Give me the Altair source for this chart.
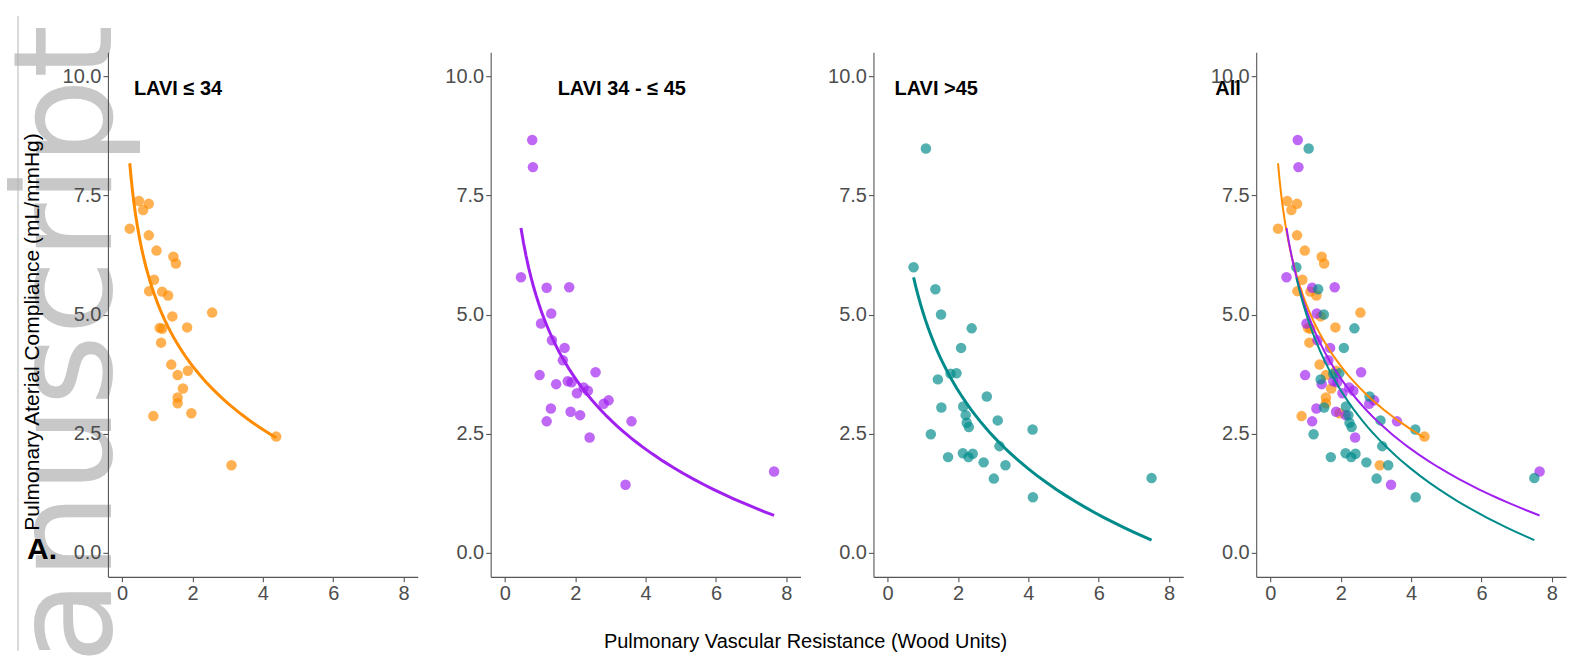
import altair as alt
import pandas as pd

# ---------------- data ----------------
group_names = ["LAVI ≤ 34", "LAVI 34 - ≤ 45", "LAVI >45"]
panel_titles = ["LAVI ≤ 34", "LAVI 34 - ≤ 45", "LAVI >45", "All"]
colors = ["#FF8C00", "#A020F0", "#008B8B"]
x_ticks = [0, 2, 4, 6, 8]
y_ticks = [0.0, 2.5, 5.0, 7.5, 10.0]
x_label = "Pulmonary Vascular Resistance (Wood Units)"
y_label = "Pulmonary Aterial Compliance (mL/mmHg)"
panel_tag = "A."
watermark = "anuscript"

pvr_1 = [0.48, 0.76, 0.60, 0.22, 0.76, 0.98, 1.46, 1.53, 0.91, 0.77, 1.14, 1.31, 2.56, 1.43,
         1.07, 1.14, 1.85, 1.11, 1.40, 1.87, 1.58, 1.73, 1.58, 1.58, 0.89, 1.97, 4.38, 3.11]
pac_1 = [7.38, 7.32, 7.19, 6.80, 6.66, 6.34, 6.21, 6.07, 5.73, 5.49, 5.48, 5.40, 5.04, 4.96,
         4.72, 4.70, 4.73, 4.41, 3.95, 3.82, 3.73, 3.45, 3.26, 3.14, 2.87, 2.93, 2.44, 1.84]

pvr_2 = [0.78, 0.80, 0.46, 1.19, 1.83, 1.32, 1.03, 1.34, 1.70, 1.65, 2.58, 0.99, 1.79, 1.90,
         1.46, 2.24, 2.36, 2.05, 2.95, 2.81, 1.31, 1.87, 2.14, 1.19, 3.60, 2.41, 3.43, 7.65]
pac_2 = [8.66, 8.09, 5.78, 5.56, 5.57, 5.02, 4.81, 4.46, 4.30, 4.04, 3.79, 3.73, 3.60, 3.58,
         3.54, 3.47, 3.40, 3.35, 3.20, 3.13, 3.03, 2.96, 2.89, 2.76, 2.76, 2.42, 1.43, 1.71]

pvr_3 = [1.09, 0.74, 1.36, 1.52, 2.39, 2.09, 1.79, 1.96, 1.43, 2.82, 2.15, 1.53, 2.22, 2.25,
         2.31, 3.13, 4.12, 1.23, 3.18, 2.14, 2.42, 2.30, 1.72, 2.73, 3.35, 3.02, 4.13, 7.50]
pac_3 = [8.48, 5.99, 5.53, 5.00, 4.71, 4.30, 3.76, 3.77, 3.64, 3.28, 3.07, 3.05, 2.89, 2.73,
         2.64, 2.78, 2.59, 2.49, 2.24, 2.09, 2.08, 2.01, 2.01, 1.90, 1.84, 1.56, 1.17, 1.57]

frames = [
    pd.DataFrame({"pvr": xs, "pac": ys, "group": g})
    for xs, ys, g in [(pvr_1, pac_1, group_names[0]),
                      (pvr_2, pac_2, group_names[1]),
                      (pvr_3, pac_3, group_names[2])]
]
all_df = pd.concat(frames, ignore_index=True)

# ---------------- styling ----------------
FONT = "Liberation Sans"
W, H = 310, 525
xscale = alt.Scale(domain=[-0.4, 8.4], nice=False, zero=False)
yscale = alt.Scale(domain=[-0.5, 10.5], nice=False, zero=False)
cscale = alt.Scale(domain=group_names, range=colors)
xaxis = alt.Axis(values=x_ticks, title=None, format="d", labelFlush=False, zindex=1)
yaxis = alt.Axis(values=y_ticks, title=None, format=".1f", labelFlush=False, zindex=1)


def text_layer(text, x, y, size, bold=True, color="black", angle=0,
               align="left", baseline="alphabetic", font=FONT):
    kw = dict(font=font, fontSize=size, color=color, align=align,
              baseline=baseline, fontWeight="bold" if bold else "normal")
    if angle:
        kw["angle"] = angle
    return alt.Chart(pd.DataFrame({"t": [text]})).mark_text(**kw).encode(
        x=alt.value(x), y=alt.value(y), text="t:N")


def panel(df, title, tx, lw, before=(), after=()):
    base = alt.Chart(df)
    enc = dict(
        x=alt.X("pvr:Q", scale=xscale, axis=xaxis),
        y=alt.Y("pac:Q", scale=yscale, axis=yaxis),
        color=alt.Color("group:N", scale=cscale, legend=None),
    )
    pts = base.mark_circle(size=110, opacity=0.68).encode(**enc)
    fit = base.transform_regression(
        "pvr", "pac", method="log", groupby=["group"]
    ).mark_line(strokeWidth=lw).encode(**enc)
    ttl = text_layer(title, tx, 43, 20)
    return alt.layer(*before, pts, fit, ttl, *after).properties(width=W, height=H)


wm = text_layer(watermark, 3, 612, 137, bold=False, color="#c8c8c8", angle=270,
                font="DejaVu Sans")
vline = alt.Chart(pd.DataFrame({"a": [0]})).mark_rule(color="#b4b4b4", strokeWidth=1).encode(
    x=alt.value(-90), y=alt.value(-36), y2=alt.value(599))
ytitle = text_layer(y_label, -69, 280, 21, bold=False, angle=270, align="center")
tag = text_layer(panel_tag, -81, 507, 30)
xtitle = text_layer(x_label, 315, 596, 20, bold=False, align="center")

p1 = panel(frames[0], panel_titles[0], 26, 3, before=[wm, vline], after=[ytitle, tag])
p2 = panel(frames[1], panel_titles[1], 67, 3, after=[xtitle])
p3 = panel(frames[2], panel_titles[2], 21, 3)
p4 = panel(all_df, panel_titles[3], -41, 2)

chart = alt.hconcat(p1, p2, p3, p4, spacing=73, bounds="flush").properties(
    padding={"left": 0, "top": 15, "right": 3, "bottom": 0},
    background="white",
).configure_axis(
    grid=False,
    domainColor="#555555", tickColor="#555555", labelColor="#4d4d4d",
    labelFont=FONT, labelFontSize=20, tickSize=5,
    domainWidth=1.1, tickWidth=1.1, labelPadding=2,
).configure_view(stroke=None)

chart.save("out.html", embed_options={"renderer": "svg", "actions": False})
